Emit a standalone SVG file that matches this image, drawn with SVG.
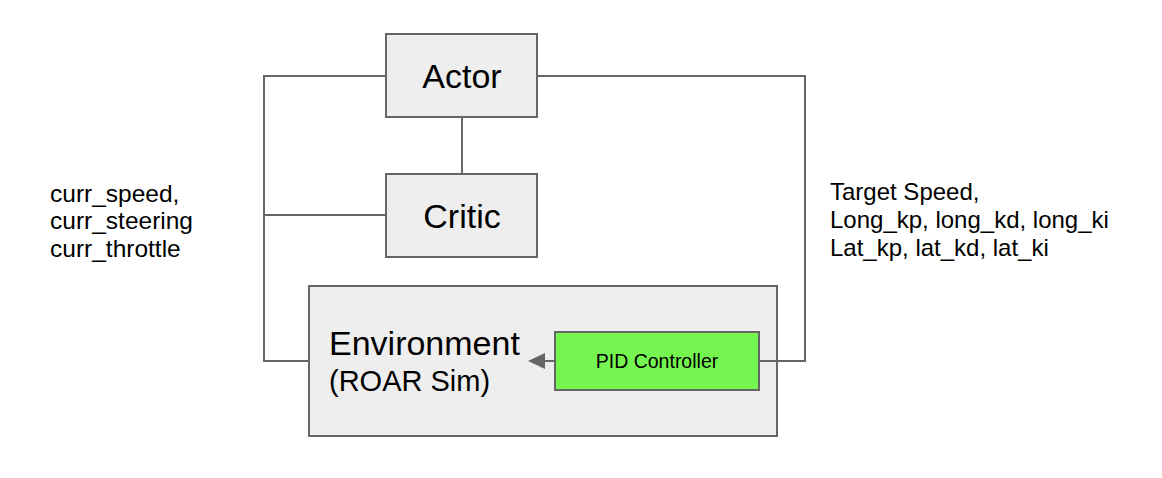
<svg xmlns="http://www.w3.org/2000/svg" width="1162" height="478" viewBox="0 0 1162 478">
<style>
.box{fill:#eeeeee;stroke:#666666;stroke-width:2}
.pid{fill:#75f54f;stroke:#666666;stroke-width:2}
.ln{fill:none;stroke:#666666;stroke-width:2}
text{font-family:"Liberation Sans",Arial,sans-serif;fill:#000}
.big{font-size:34px}
.lbl{font-size:24px}
</style>
<rect width="1162" height="478" fill="#ffffff"/>
<g id="actor">
<rect class="box" x="386" y="34" width="151" height="83"/>
<text class="big" x="462" y="88" text-anchor="middle">Actor</text>
</g>
<g id="critic">
<rect class="box" x="386" y="174" width="151" height="83"/>
<text class="big" x="462" y="228" text-anchor="middle">Critic</text>
</g>
<g id="environment">
<rect class="box" x="309" y="286" width="468" height="150"/>
<text class="big" x="329" y="355">Environment</text>
<text x="329" y="391" style="font-size:29px">(ROAR Sim)</text>
</g>
<g id="pid">
<rect class="pid" x="555" y="332" width="204" height="58"/>
<text x="657" y="368" text-anchor="middle" style="font-size:19.5px">PID Controller</text>
</g>
<g id="connectors">
<polyline class="ln" points="386,76 264,76 264,361 309,361"/>
<line class="ln" x1="264" y1="215" x2="386" y2="215"/>
<line class="ln" x1="462" y1="117" x2="462" y2="174"/>
<polyline class="ln" points="537,76 805,76 805,361 759,361"/>
<line class="ln" x1="555" y1="361" x2="544" y2="361"/>
<path d="M545,353 L528,361 L545,369 z" fill="#666666"/>
</g>
<g id="left-label">
<text class="lbl" x="50" y="202" style="font-size:24.5px">curr_speed,</text>
<text class="lbl" x="50" y="229" style="font-size:24.5px">curr_steering</text>
<text class="lbl" x="50" y="257" style="font-size:24.5px">curr_throttle</text>
</g>
<g id="right-label">
<text class="lbl" x="830" y="200">Target Speed,</text>
<text class="lbl" x="830" y="228">Long_kp, long_kd, long_ki</text>
<text class="lbl" x="830" y="256">Lat_kp, lat_kd, lat_ki</text>
</g>
</svg>
